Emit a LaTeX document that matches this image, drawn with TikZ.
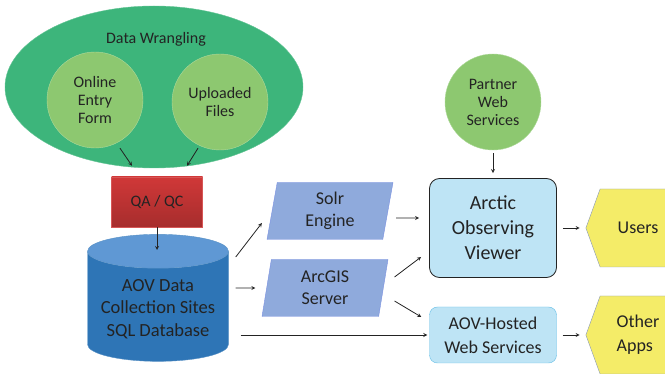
\documentclass[tikz,border=0pt]{standalone}
\usepackage{fontspec}
\setmainfont{Carlito}
\usepackage{tikz}
\usetikzlibrary{arrows,shapes,positioning,calc}
\definecolor{aovgreen}{RGB}{61,181,123}
\definecolor{aovlightgreen}{RGB}{141,200,112}
\definecolor{aovred}{RGB}{208,56,56}
\definecolor{aovblue}{RGB}{46,117,182}
\definecolor{aovbluetop}{RGB}{95,152,212}
\definecolor{aovpara}{RGB}{143,170,220}
\definecolor{aovsky}{RGB}{190,228,245}
\definecolor{aovskyline}{RGB}{100,190,230}
\definecolor{aovyellow}{RGB}{244,236,104}
\definecolor{aovtext}{RGB}{35,35,35}
\tikzstyle{arrow} = [line width=0.8pt,->,>=stealth,color=aovtext]
\tikzstyle{bubble} = [circle, minimum size=96pt, inner sep=0pt, align=center, fill=aovlightgreen, draw=aovlightgreen!70!white, text=aovtext, font=\fontsize{16}{18}\selectfont]
\tikzstyle{servicebox} = [trapezium, trapezium left angle=77, trapezium right angle=103, trapezium stretches body, minimum width=126pt, minimum height=57pt, align=center, fill=aovpara, draw=aovpara!85!blue, text=aovtext, font=\fontsize{18}{22}\selectfont]
\tikzstyle{consumer} = [signal, signal to=west, signal from=nowhere, signal pointer angle=140, minimum width=90pt, minimum height=78pt, align=left, fill=aovyellow, draw=aovpara!60!gray, text=aovtext, font=\fontsize{18}{24}\selectfont]

\begin{document}
\begin{tikzpicture}[x=1pt, y=-1pt]
\useasboundingbox (0,0) rectangle (665,374);
\clip (0,0) rectangle (665,374);

% Data wrangling
\node[ellipse, minimum width=298pt, minimum height=162pt, fill=aovgreen, draw=aovgreen!80!white] (wrangling) at (154,87) {};
\node[text=aovtext, font=\fontsize{16}{18}\selectfont] (wrangtitle) at (156,39) {Data Wrangling};
\node[bubble] (online) at (95,100) {Online\\Entry\\Form};
\node[bubble] (uploaded) at (220,102) {Uploaded\\Files};

% QA and database
\node[rectangle, minimum width=91pt, minimum height=50pt, top color=aovred, bottom color=aovred!80!black, draw=aovred!85!white, text=aovtext, font=\fontsize{16}{18}\selectfont] (qa) at (157,202) {QA / QC};
\node[cylinder, shape border rotate=90, aspect=0.28, minimum width=141pt, minimum height=127pt, cylinder uses custom fill, cylinder body fill=aovblue, cylinder end fill=aovbluetop, draw=aovblue!80!white, align=center, text=aovtext, font=\fontsize{18.5}{22.5}\selectfont] (db) at (158,309) {AOV Data\\Collection Sites\\SQL Database};

% Services
\node[servicebox] (solr) at (330,211) {Solr\\Engine};
\node[servicebox] (arcgis) at (325,288) {ArcGIS\\Server};
\node[bubble] (partner) at (493,102) {Partner\\Web\\Services};
\node[rectangle, rounded corners=10pt, minimum width=127pt, minimum height=99pt, fill=aovsky, draw=aovtext, thick, align=center, text=aovtext, font=\fontsize{20}{25}\selectfont] (arctic) at (493,228) {Arctic\\Observing\\Viewer};
\node[rectangle, rounded corners=8pt, minimum width=127pt, minimum height=56pt, fill=aovsky, draw=aovskyline, align=center, text=aovtext, font=\fontsize{18}{24}\selectfont] (hosted) at (493,335) {AOV-Hosted\\Web Services};

% Consumers
\node[consumer] (users) at (638,228) {Users};
\node[consumer] (otherapps) at (638,335) {Other\\Apps};

% Arrows
\draw[arrow] ($(online.south)+(25,0)$) -- ($(qa.north)+(-25,-11)$);
\draw[arrow] ($(uploaded.south)+(-22,-2)$) -- ($(qa.north)+(30,-11)$);
\draw[arrow] (qa.south) -- (157,250);
\draw[arrow] ($(db.east)+(7,-52)$) -- ($(solr.west)+(-10,12)$);
\draw[arrow] ($(db.east)+(7,-21)$) -- ($(arcgis.west)+(-11,0)$);
\draw[arrow, shorten <=12pt] (db.east |- hosted.west) -- ($(hosted.west)+(-2,0)$);
\draw[arrow] ($(solr.east)+(8,7)$) -- ($(arctic.west)+(-10,-10)$);
\draw[arrow] ($(arcgis.east)+(11,-11)$) -- ($(arctic.west)+(-8,29)$);
\draw[arrow] ($(arcgis.east)+(11,13)$) -- ($(hosted.west)+(-8,-18)$);
\draw[arrow] ($(partner.south)+(0,3)$) -- ($(arctic.north)+(0,-5)$);
\draw[arrow] ($(arctic.east)+(6,0)$) -- ($(users.west)+(-6,0)$);
\draw[arrow] ($(hosted.east)+(6,0)$) -- ($(otherapps.west)+(-6,0)$);
\end{tikzpicture}
\end{document}
